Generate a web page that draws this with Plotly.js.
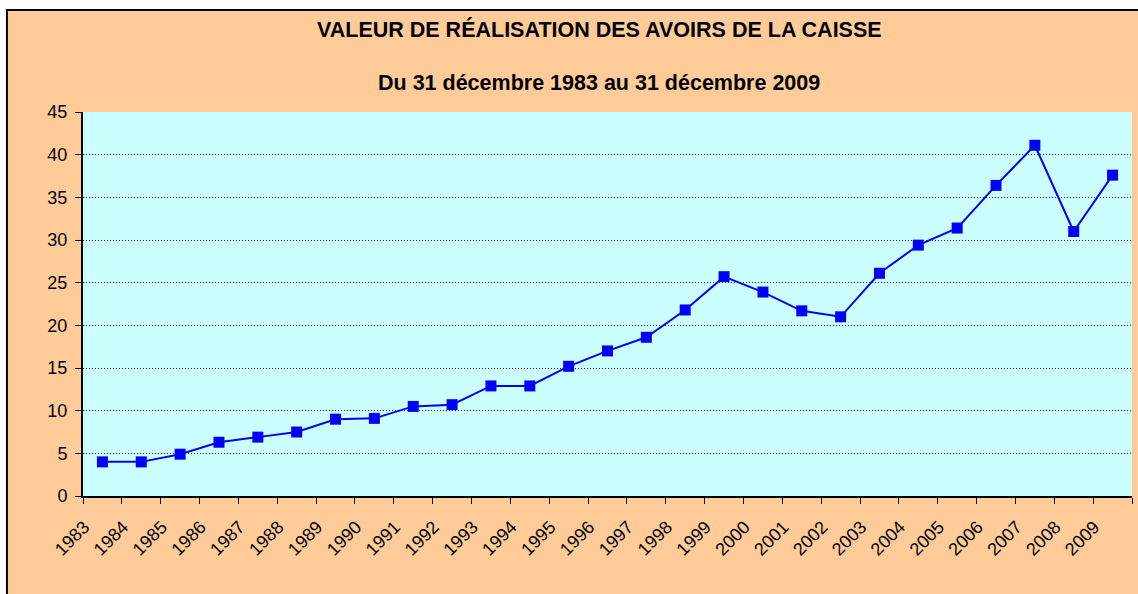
<!DOCTYPE html>
<html>
<head>
<meta charset="utf-8">
<script src="https://cdn.plot.ly/plotly-3.0.1.min.js"></script>
<style>html,body{margin:0;padding:0;background:#fff;}#chart{width:1138px;height:594px;}</style>
</head>
<body>
<div id="chart"></div>
<script>
var years = ["1983","1984","1985","1986","1987","1988","1989","1990","1991","1992","1993","1994","1995","1996","1997","1998","1999","2000","2001","2002","2003","2004","2005","2006","2007","2008","2009"];
var values = [4.0, 4.0, 4.9, 6.3, 6.9, 7.5, 9.0, 9.1, 10.5, 10.7, 12.9, 12.9, 15.2, 17.0, 18.6, 21.8, 25.7, 23.9, 21.7, 21.0, 26.1, 29.4, 31.4, 36.4, 41.1, 31.0, 37.6];
var titleText = "VALEUR DE RÉALISATION DES AVOIRS DE LA CAISSE";
var subtitleText = "Du 31 décembre 1983 au 31 décembre 2009";
var yTicks = [0,5,10,15,20,25,30,35,40,45];

var font = "Liberation Sans, Arial, sans-serif";
var labelOffset = 0.47; // labels sit slightly left of category centres, as in the original
var catIdx = years.map(function(_, i){ return i; });

var trace = {
  x: years,
  y: values,
  type: "scatter",
  mode: "lines+markers",
  line: {color: "#0000FF", width: 2},
  marker: {symbol: "square", size: 11, color: "#0000FF", line: {width: 0}},
  hoverinfo: "x+y"
};
// invisible companion trace that carries the year label axis
var labelTrace = {
  x: catIdx,
  y: values,
  xaxis: "x2",
  type: "scatter",
  mode: "none",
  hoverinfo: "skip",
  showlegend: false
};

var layout = {
  width: 1138,
  height: 594,
  margin: {l: 83, r: 6, t: 112, b: 98},
  paper_bgcolor: "#FFFFFF",
  plot_bgcolor: "#CCFFFF",
  showlegend: false,
  font: {family: font, size: 17, color: "#000"},
  xaxis: {
    type: "category",
    range: [-0.5, 26.5],
    tickson: "boundaries",
    ticks: "outside",
    ticklen: 6,
    tickcolor: "#000",
    tickwidth: 1,
    showline: true,
    linecolor: "#000",
    linewidth: 2,
    showgrid: false,
    showticklabels: false,
    fixedrange: true
  },
  xaxis2: {
    type: "linear",
    overlaying: "x",
    anchor: "y",
    side: "bottom",
    range: [-0.5 + labelOffset, 26.5 + labelOffset],
    tickmode: "array",
    tickvals: catIdx,
    ticktext: years,
    ticks: "",
    showline: false,
    showgrid: false,
    zeroline: false,
    tickangle: -45,
    ticklabelstandoff: 16,
    tickfont: {family: font, size: 18, color: "#000"},
    fixedrange: true
  },
  yaxis: {
    range: [0, 45],
    tickvals: yTicks,
    ticktext: yTicks.map(String),
    ticks: "outside",
    ticklen: 6,
    tickcolor: "#000",
    showline: true,
    linecolor: "#000",
    linewidth: 2,
    showgrid: true,
    gridcolor: "#222",
    gridwidth: 1,
    griddash: "1px,2px",
    zeroline: false,
    ticklabelstandoff: 4,
    tickfont: {family: font, size: 18, color: "#000"},
    fixedrange: true
  },
  shapes: [
    {type: "rect", xref: "paper", yref: "paper",
     x0: -0.0725, x1: 1.2, y0: -0.6, y1: 1.2656,
     fillcolor: "#FFCC99", line: {color: "#000", width: 2}, layer: "below"},
    {type: "rect", xref: "paper", yref: "paper",
     x0: 0, x1: 1, y0: 0, y1: 1,
     fillcolor: "#CCFFFF", line: {width: 0}, layer: "below"}
  ],
  annotations: [
    {text: "<b>" + titleText + "</b>", xref: "paper", yref: "paper", x: 0.4919, y: 1.216,
     xanchor: "center", yanchor: "middle", showarrow: false, font: {family: font, size: 21.5, color: "#000"}},
    {text: "<b>" + subtitleText + "</b>", xref: "paper", yref: "paper", x: 0.4919, y: 1.0768,
     xanchor: "center", yanchor: "middle", showarrow: false, font: {family: font, size: 21.5, color: "#000"}}
  ]
};

Plotly.newPlot("chart", [labelTrace, trace], layout, {displayModeBar: false, staticPlot: true});
</script>
</body>
</html>
